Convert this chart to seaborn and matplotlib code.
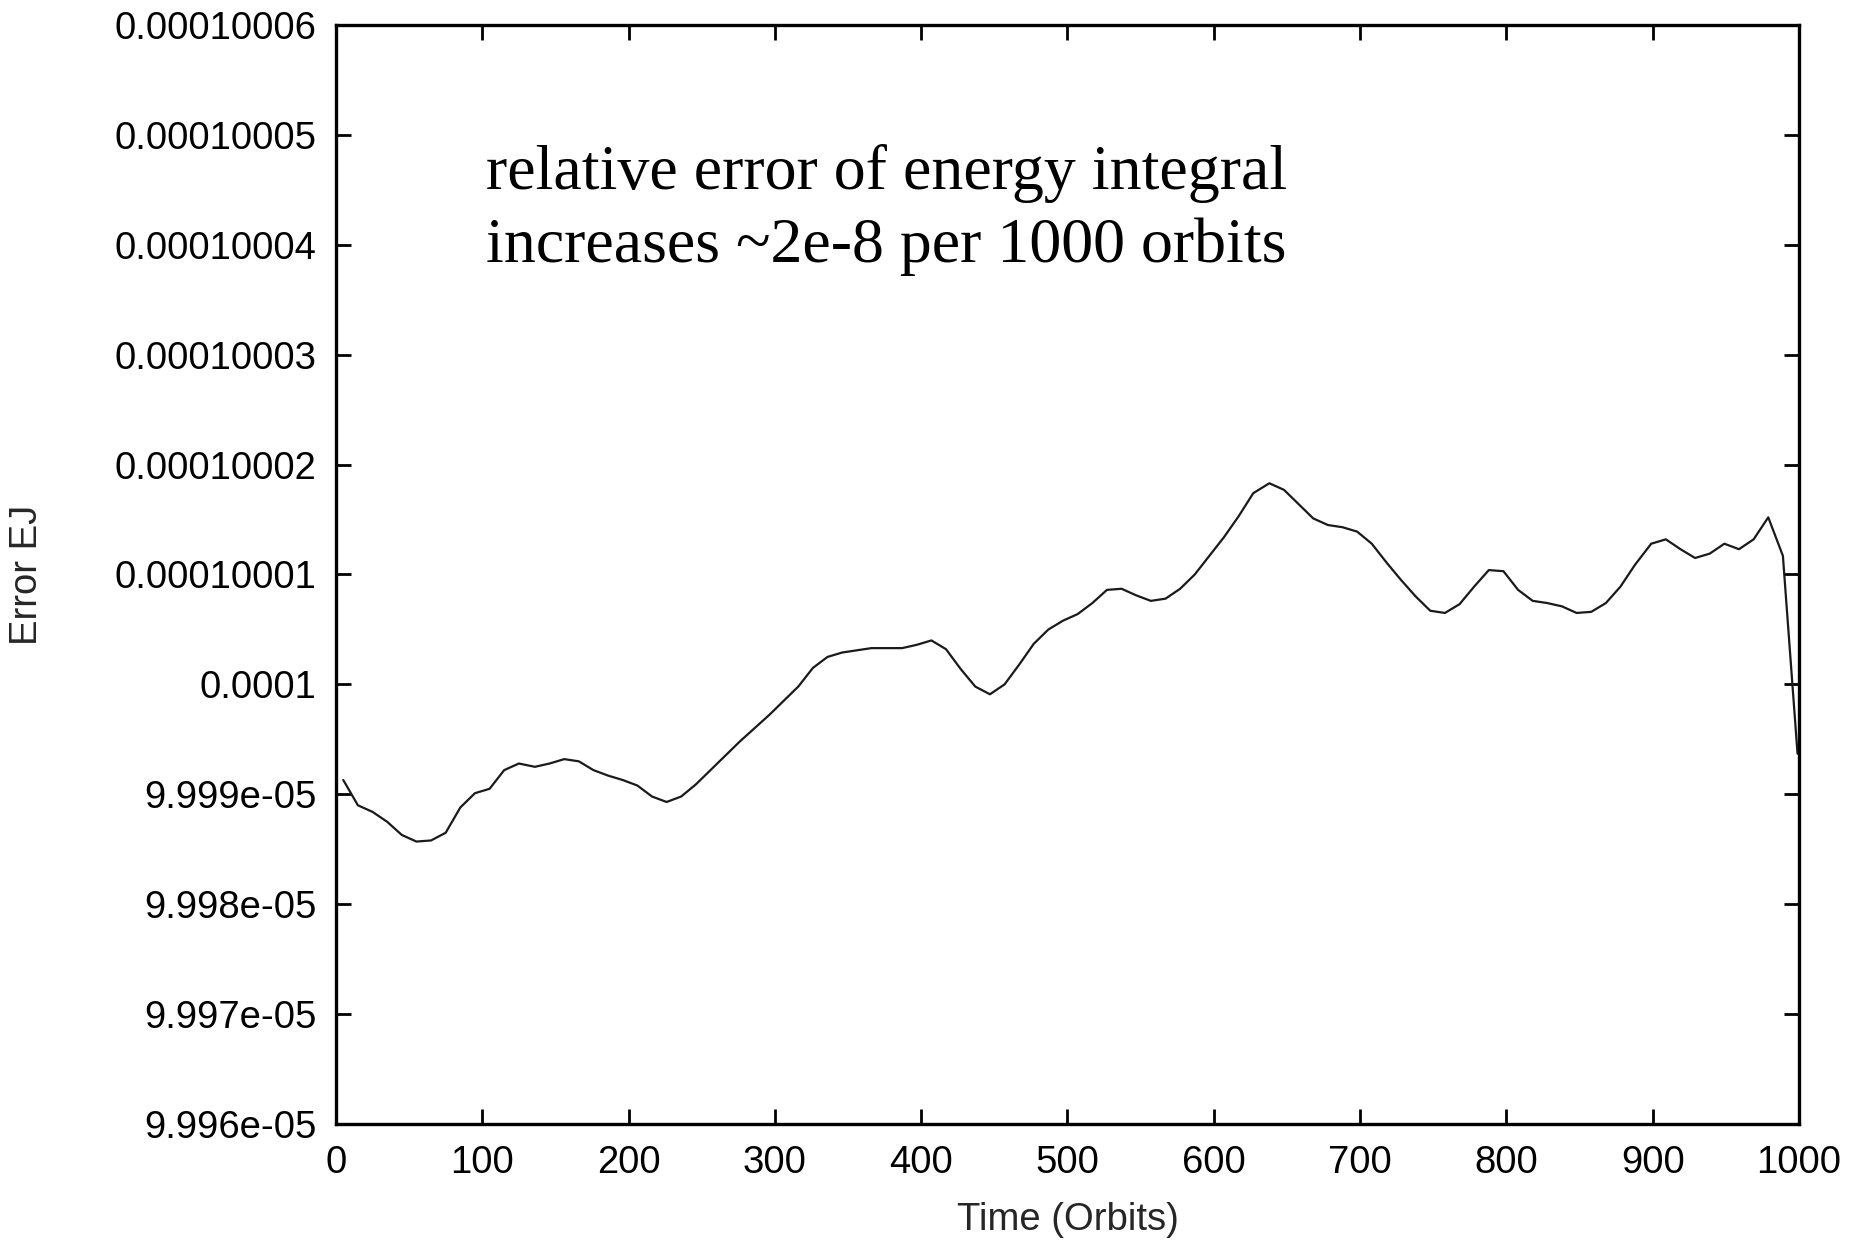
import matplotlib
matplotlib.use("Agg")
import matplotlib.pyplot as plt
from matplotlib.ticker import FixedLocator
import numpy as np
import pandas as pd
import seaborn as sns

# Output times (orbits)
time_orbits = [
    5, 15, 25, 35, 45, 55, 65, 75, 85, 95,
    105, 115, 125, 136, 146, 156, 166, 176, 186, 196,
    206, 216, 226, 236, 246, 256, 266, 276, 286, 296,
    306, 316, 326, 336, 346, 356, 366, 376, 387, 397,
    407, 417, 427, 437, 447, 457, 467, 477, 487, 497,
    507, 517, 527, 537, 547, 557, 567, 577, 587, 597,
    607, 617, 627, 638, 648, 658, 668, 678, 688, 698,
    708, 718, 728, 738, 748, 758, 768, 778, 788, 798,
    808, 818, 828, 838, 848, 858, 868, 878, 888, 899,
    909, 919, 929, 939, 949, 959, 969, 979, 989, 999,
]

# Deviation of EJ from 1e-4, in units of 1e-8
ej_dev_e8 = [
    -0.87, -1.10, -1.16, -1.25, -1.37, -1.43, -1.42, -1.35, -1.12, -0.99,
    -0.95, -0.78, -0.72, -0.75, -0.72, -0.68, -0.70, -0.78, -0.83, -0.87,
    -0.92, -1.02, -1.07, -1.02, -0.91, -0.78, -0.65, -0.52, -0.40, -0.28,
    -0.15, -0.02, 0.15, 0.25, 0.29, 0.31, 0.33, 0.33, 0.33, 0.36,
    0.40, 0.32, 0.14, -0.02, -0.09, 0.00, 0.18, 0.37, 0.50, 0.58,
    0.64, 0.74, 0.86, 0.87, 0.81, 0.76, 0.78, 0.87, 1.00, 1.17,
    1.34, 1.53, 1.74, 1.83, 1.77, 1.64, 1.51, 1.45, 1.43, 1.39,
    1.28, 1.11, 0.95, 0.80, 0.67, 0.65, 0.73, 0.89, 1.04, 1.03,
    0.86, 0.76, 0.74, 0.71, 0.65, 0.66, 0.74, 0.89, 1.09, 1.28,
    1.32, 1.23, 1.15, 1.19, 1.28, 1.23, 1.32, 1.52, 1.17, -0.63,
]

x_ticks = [0, 100, 200, 300, 400, 500, 600, 700, 800, 900, 1000]
y_tick_labels = [
    "9.996e-05", "9.997e-05", "9.998e-05", "9.999e-05", "0.0001",
    "0.00010001", "0.00010002", "0.00010003", "0.00010004",
    "0.00010005", "0.00010006",
]
y_tick_values = [float(s) for s in y_tick_labels]

df = pd.DataFrame({
    "time": time_orbits,
    "error_ej": 1e-4 + np.array(ej_dev_e8) * 1e-8,
})

sns.set_theme(style="ticks")
plt.rcParams["font.family"] = ["Liberation Sans", "DejaVu Sans"]

fig = plt.figure(figsize=(18.51, 12.42), dpi=100)
ax = fig.add_axes([0.1815, 0.095, 0.9719 - 0.1815, 0.9799 - 0.095])

sns.lineplot(data=df, x="time", y="error_ej", ax=ax, color="#1a1a1a",
             linewidth=1.6, estimator=None, sort=False)

ax.set_xlim(0, 1000)
ax.set_ylim(9.996e-05, 0.00010006)
ax.xaxis.set_major_locator(FixedLocator(x_ticks))
ax.set_xticklabels([str(v) for v in x_ticks])
ax.yaxis.set_major_locator(FixedLocator(y_tick_values))
ax.set_yticklabels(y_tick_labels)
ax.minorticks_off()

for side in ["left", "right", "top", "bottom"]:
    ax.spines[side].set_visible(True)
    ax.spines[side].set_linewidth(2.4)
    ax.spines[side].set_color("black")

ax.tick_params(axis="both", which="major", direction="in", length=11,
               width=2.0, color="black", labelsize=27.5, labelcolor="black",
               top=True, right=True)
ax.tick_params(axis="y", pad=14)
ax.tick_params(axis="x", pad=15)

ax.set_xlabel("Time (Orbits)", fontsize=27.5, labelpad=15)
ax.set_ylabel("Error EJ", fontsize=27.5, labelpad=50)
ax.grid(False)

ann_kw = dict(fontsize=46, family=["Liberation Serif", "DejaVu Serif"],
              color="black", ha="left", va="baseline")
fig.text(486 / 1851, 1 - 189 / 1242, "relative error of energy integral", **ann_kw)
fig.text(486 / 1851, 1 - 262 / 1242, "increases ~2e-8 per 1000 orbits", **ann_kw)

fig.savefig("out.png", dpi=100, facecolor="white")
